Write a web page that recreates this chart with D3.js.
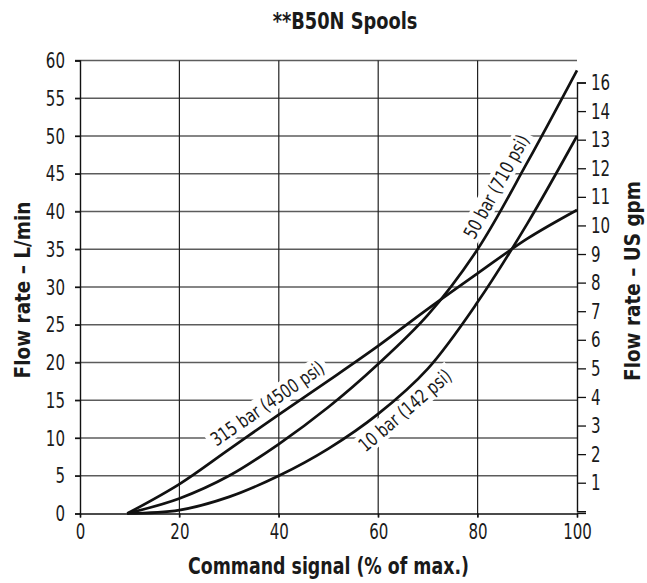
<!DOCTYPE html>
<html>
<head>
<meta charset="utf-8">
<script src="https://cdnjs.cloudflare.com/ajax/libs/d3/7.8.5/d3.min.js"></script>
<style>
  body { margin: 0; background: #fff; }
  svg text { font-family: "Liberation Sans Narrow", "DejaVu Sans Condensed", "DejaVu Sans", sans-serif; fill: #1a1a1a; }
  .bold { font-weight: bold; }
</style>
</head>
<body>
<div class="chart"></div>
<script>
// data
var signal = [9.5, 20, 30, 40, 50, 60, 70, 80, 90, 100];
var bar315 = [0, 3.9, 8.5, 13.1, 17.6, 22.2, 27.1, 31.8, 36.4, 40.2];
var bar50 = [0, 2.0, 5.0, 9.2, 14.1, 19.8, 26.3, 35.0, 46.5, 58.7];
var bar10 = [0, 0.45, 2.2, 5.0, 8.6, 13.2, 19.2, 28.0, 38.4, 50.0];

var xTicks = [0, 20, 40, 60, 80, 100];
var yTicks = [0, 5, 10, 15, 20, 25, 30, 35, 40, 45, 50, 55, 60];
var gpmTicks = [1, 2, 3, 4, 5, 6, 7, 8, 9, 10, 11, 12, 13, 14, 15];
var gpmLabels = ["1", "2", "3", "4", "5", "6", "7", "8", "9", "10", "11", "12", "13", "14", "16"];

var curveLabels = ["315 bar (4500 psi)", "50 bar (710 psi)", "10 bar (142 psi)"];
var labelAt = [39.5, 86.5, 63.5];
var labelSide = [-1, -1, 1];

var svgWidth = 647;
var svgHeight = 583;
var margin = { top: 60.5, right: 70, bottom: 69.5, left: 80 };
var width = svgWidth - margin.left - margin.right;
var height = svgHeight - margin.top - margin.bottom;

var svg = d3.select(".chart")
  .append("svg")
  .attr("width", svgWidth)
  .attr("height", svgHeight);

var chartGroup = svg.append("g")
  .attr("transform", `translate(${margin.left}, ${margin.top})`);

var xScale = d3.scaleLinear().domain([0, 100]).range([0, width]);
var yScale = d3.scaleLinear().domain([0, 60]).range([height, 0]);
// right axis (ticks as printed)
var gpmScale = d3.scaleLinear().domain([0, 15]).range([height - 2.2, 22]);

// squeeze text horizontally to get the narrow look of the original type
function condense(sel, k) {
  sel.each(function() {
    var w = this.getComputedTextLength();
    d3.select(this)
      .attr("textLength", w * k)
      .attr("lengthAdjust", "spacingAndGlyphs");
  });
}

// horizontal grid
chartGroup.append("g")
  .selectAll("line")
  .data(yTicks.slice(1))
  .enter()
  .append("line")
  .attr("x1", -5)
  .attr("x2", width)
  .attr("y1", d => yScale(d))
  .attr("y2", d => yScale(d))
  .attr("stroke", "#5c5c5c")
  .attr("stroke-width", 1.7);

// vertical grid
chartGroup.append("g")
  .selectAll("line")
  .data(xTicks.slice(1, -1))
  .enter()
  .append("line")
  .attr("x1", d => xScale(d))
  .attr("x2", d => xScale(d))
  .attr("y1", 0)
  .attr("y2", height + 4)
  .attr("stroke", "#222")
  .attr("stroke-width", 1.2);

// left axis
var leftAxis = d3.axisLeft(yScale).tickValues(yTicks).tickSize(5).tickPadding(10);
var yAxis = chartGroup.append("g").call(leftAxis);

// bottom axis
var bottomAxis = d3.axisBottom(xScale).tickValues(xTicks).tickSize(4).tickPadding(6);
var xAxis = chartGroup.append("g")
  .attr("transform", `translate(0, ${height})`)
  .call(bottomAxis);

// right axis
var rightAxis = d3.axisRight(gpmScale)
  .tickValues(gpmTicks)
  .tickFormat((d, i) => gpmLabels[i])
  .tickSize(9)
  .tickPadding(5);
var rAxis = chartGroup.append("g")
  .attr("transform", `translate(${width}, 0)`)
  .call(rightAxis);

[yAxis, xAxis, rAxis].forEach(function(a) {
  a.select(".domain").attr("stroke", "#111").attr("stroke-width", 1.4);
  a.selectAll(".tick line").attr("stroke", "#111").attr("stroke-width", 1.3);
  a.selectAll("text").attr("font-size", 22).attr("fill", "#1a1a1a")
    .style("font-family", null)
    .call(condense, 0.76);
});
// bottom line runs under the right ticks
chartGroup.append("line")
  .attr("x1", width).attr("x2", width + 9)
  .attr("y1", height).attr("y2", height)
  .attr("stroke", "#111").attr("stroke-width", 1.3);

// curves
var line = d3.line()
  .x(d => xScale(d[0]))
  .y(d => yScale(d[1]))
  .curve(d3.curveCatmullRom.alpha(0.5));

var seriesList = [bar315, bar50, bar10];
var paths = seriesList.map(function(vals) {
  var pts = signal.map((s, i) => [s, vals[i]]);
  return chartGroup.append("path")
    .datum(pts)
    .attr("d", line)
    .attr("fill", "none")
    .attr("stroke", "#111")
    .attr("stroke-width", 2.7);
});

// find length along path where x reaches the target
function pointAt(node, xTarget) {
  var lo = 0, hi = node.getTotalLength();
  for (var k = 0; k < 40; k++) {
    var mid = (lo + hi) / 2;
    if (node.getPointAtLength(mid).x < xTarget) lo = mid; else hi = mid;
  }
  return lo;
}

curveLabels.forEach(function(txt, i) {
  var node = paths[i].node();
  var len = pointAt(node, xScale(labelAt[i]));
  var p = node.getPointAtLength(len);
  var a = node.getPointAtLength(len - 8);
  var b = node.getPointAtLength(len + 8);
  var angle = Math.atan2(b.y - a.y, b.x - a.x) * 180 / Math.PI;

  var g = chartGroup.append("g")
    .attr("transform", `translate(${p.x}, ${p.y}) rotate(${angle})`);
  var t = g.append("text")
    .attr("text-anchor", "middle")
    .attr("font-size", 19)
    .attr("y", labelSide[i] < 0 ? -9 : 21)
    .text(txt)
    .call(condense, 0.84);
  var bb = t.node().getBBox();
  g.insert("rect", "text")
    .attr("x", bb.x - 4)
    .attr("y", bb.y)
    .attr("width", bb.width + 8)
    .attr("height", bb.height)
    .attr("fill", "#fff");
});
// keep curves above label boxes
paths.forEach(p => p.raise());

// titles
svg.append("text")
  .attr("class", "bold")
  .attr("x", 345)
  .attr("y", 29)
  .attr("text-anchor", "middle")
  .attr("font-size", 23)
  .text("**B50N Spools")
  .call(condense, 0.86);

svg.append("text")
  .attr("class", "bold")
  .attr("x", margin.left + width / 2)
  .attr("y", 574)
  .attr("text-anchor", "middle")
  .attr("font-size", 23)
  .text("Command signal (% of max.)")
  .call(condense, 0.84);

svg.append("text")
  .attr("class", "bold")
  .attr("transform", "rotate(-90)")
  .attr("x", -290)
  .attr("y", 30)
  .attr("text-anchor", "middle")
  .attr("font-size", 22)
  .text("Flow rate \u2013 L/min")
  .call(condense, 0.93);

svg.append("text")
  .attr("class", "bold")
  .attr("transform", "rotate(-90)")
  .attr("x", -281)
  .attr("y", 640)
  .attr("text-anchor", "middle")
  .attr("font-size", 22)
  .text("Flow rate \u2013 US gpm")
  .call(condense, 0.93);
</script>
</body>
</html>
